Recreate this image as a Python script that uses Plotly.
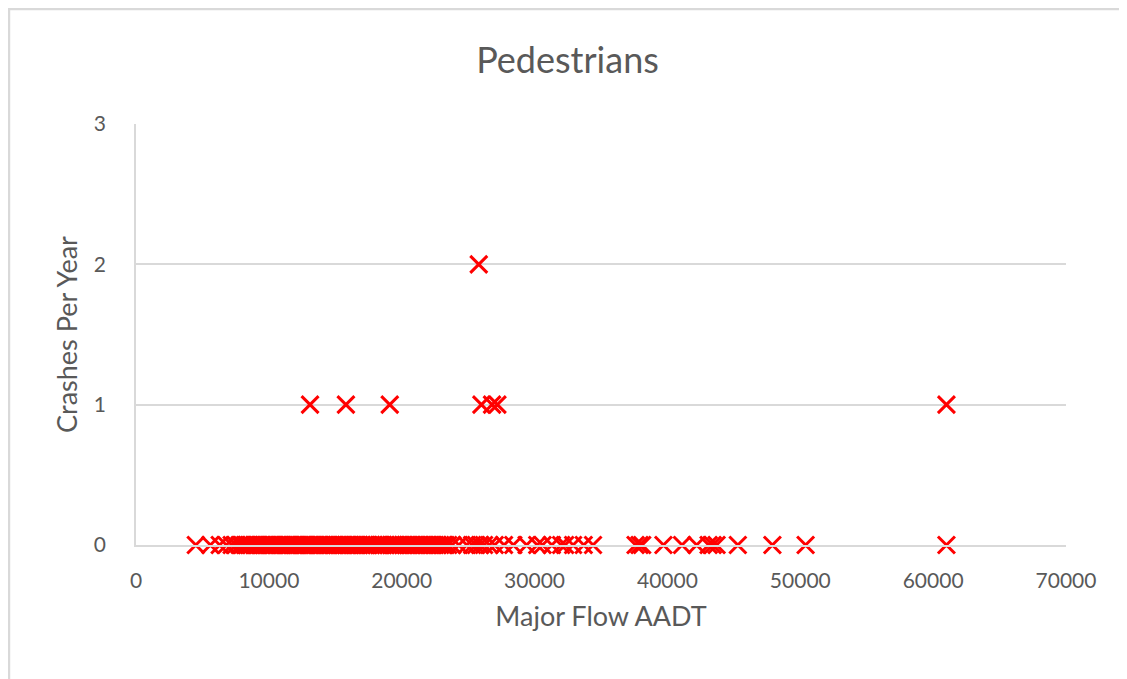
import plotly.graph_objects as go

# Data
aadt_zero = [4500, 5600, 6300, 6800, 7200, 7500, 7800, 8000, 8200, 8350, 8500, 8700, 8900, 9050, 9200, 9400,
             9600, 9750, 9900, 10100, 10250, 10400, 10600, 10800, 10950, 11100, 11300, 11450, 11600,
             11800, 11950, 12100, 12300, 12500, 12650, 12800, 13000, 13150, 13300, 13500, 13700,
             13850, 14000, 14200, 14400, 14550, 14700, 14900, 15100, 15250, 15400, 15600, 15800,
             15950, 16100, 16300, 16500, 16650, 16800, 17000, 17200, 17350, 17500, 17700, 17900,
             18100, 18300, 18450, 18600, 18800, 19000, 19200, 19350, 19500, 19700, 19900, 20100,
             20300, 20500, 20700, 20900, 21100, 21300, 21500, 21700, 21900, 22100, 22300, 22500,
             22700, 22900, 23100, 23300, 23500, 23800, 24300, 24900, 25300, 25600, 25900, 26200, 26600,
             27000, 27700, 28400, 29400, 30200, 30600, 31300, 32000, 32300, 32900, 33700, 34400,
             37600, 37900, 38100, 39700, 41100, 42200, 43100, 43400, 43700, 45300, 47900, 50400,
             61000]
aadt_one = [13100, 15800, 19100, 26000, 26800, 27200, 61000]
aadt_two = [25800]

x_vals = aadt_zero + aadt_one + aadt_two
y_vals = [0] * len(aadt_zero) + [1] * len(aadt_one) + [2] * len(aadt_two)

x_ticks = [0, 10000, 20000, 30000, 40000, 50000, 60000, 70000]
y_ticks = [0, 1, 2, 3]

TEXT = "#595959"
GRID = "#D9D9D9"
FONT = "Lato"

fig = go.Figure()
fig.add_trace(go.Scatter(
    x=x_vals, y=y_vals, mode="markers",
    marker=dict(symbol="x-thin", size=17, line=dict(color="#FF0000", width=3), color="#FF0000"),
    cliponaxis=False, showlegend=False,
))

fig.update_layout(
    width=1119, height=671,
    margin=dict(l=128, r=61, t=116, b=134),
    paper_bgcolor="white", plot_bgcolor="white",
    font=dict(family=FONT, color=TEXT),
    title=dict(text="Pedestrians", x=0.5, xanchor="center", y=0.9225, yanchor="middle",
               font=dict(size=36, family=FONT, color=TEXT)),
    xaxis=dict(range=[0, 70000], tickvals=x_ticks, ticktext=[str(v) for v in x_ticks],
               showgrid=False, zeroline=False, showline=True, linecolor=GRID, linewidth=1.5,
               ticks="", ticklabelstandoff=16, tickfont=dict(size=21, family=FONT, color=TEXT),
               title=dict(text="Major Flow AADT", standoff=16, font=dict(size=27, family=FONT, color=TEXT))),
    yaxis=dict(range=[0, 3], tickvals=y_ticks, ticktext=[str(v) for v in y_ticks],
               showgrid=True, gridcolor=GRID, gridwidth=1.5, zeroline=False,
               showline=True, linecolor=GRID, linewidth=1.5,
               ticks="", ticklabelstandoff=24, tickfont=dict(size=21, family=FONT, color=TEXT),
               title=dict(text="Crashes Per Year", standoff=8, font=dict(size=27, family=FONT, color=TEXT))),
    shapes=[dict(type="rect", xref="paper", yref="paper",
                 x0=-0.1366, x1=1.1, y0=-0.4, y1=1.273,
                 line=dict(color=GRID, width=2.5), layer="below")],
)

fig.write_html("out.html")
